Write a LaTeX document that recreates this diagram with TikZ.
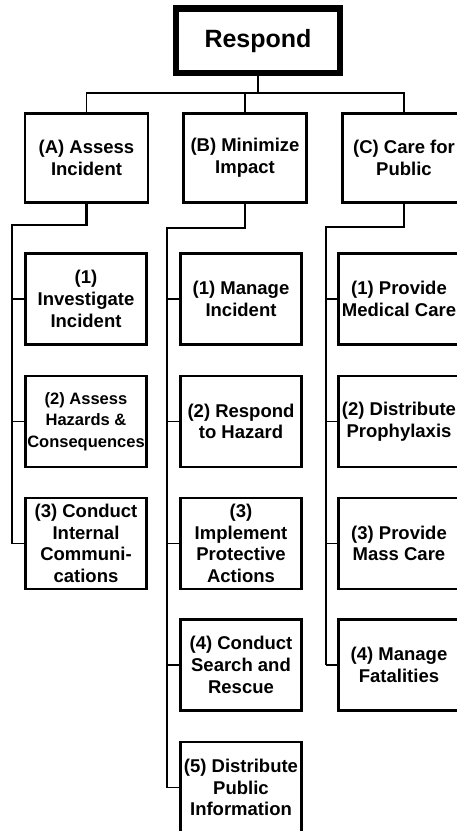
\documentclass[tikz,border=0pt]{standalone}
\usepackage{fontspec}
\setmainfont{Liberation Sans}
\tikzset{
  box/.style={draw, rectangle, line width=2.5pt, align=center, inner sep=0pt,
    minimum width=121pt, minimum height=91pt,
    font=\fontsize{18.5}{21.7}\selectfont\bfseries},
  link/.style={line width=1.8pt},
  spine/.style={line width=2.7pt},
  tick/.style={line width=1.5pt},
}
\begin{document}
\begin{tikzpicture}[x=1pt, y=-1pt]
\clip (0,0) rectangle (457,831);
\node[box, line width=6.5pt, minimum width=164pt, minimum height=64.5pt,
  font=\fontsize{25}{30}\selectfont\bfseries] (r) at (258,40.75) {Respond};
\node[box, minimum width=123pt, minimum height=89pt] (a) at (86.5,158) {(A) Assess\\Incident};
\node[box, minimum width=123pt, minimum height=89pt] (b) at (245,158) {(B) Minimize\\Impact};
\node[box, minimum width=123pt, minimum height=89pt] (c) at (404,158) {(C) Care for\\Public};
\node[box] (a1) at (86,299) {(1)\\Investigate\\Incident};
\node[box, font=\fontsize{16.5}{21.7}\selectfont\bfseries] (a2) at (86,421.5) {(2) Assess\\Hazards \&\\Consequences};
\node[box] (a3) at (86,543.5) {(3) Conduct\\Internal\\Communi-\\cations};
\node[box] (b1) at (241,299) {(1) Manage\\Incident};
\node[box] (b2) at (241,421.5) {(2) Respond\\to Hazard};
\node[box] (b3) at (241,543.5) {(3)\\Implement\\Protective\\Actions};
\node[box] (b4) at (241,665) {(4) Conduct\\Search and\\Rescue};
\node[box] (b5) at (241,787.5) {(5) Distribute\\Public\\Information};
\node[box] (c1) at (399,299) {(1) Provide\\Medical Care};
\node[box] (c2) at (399,421.5) {(2) Distribute\\Prophylaxis};
\node[box] (c3) at (399,543.5) {(3) Provide\\Mass Care};
\node[box] (c4) at (399,665) {(4) Manage\\Fatalities};
\coordinate (hub) at (258,93);
\coordinate (sa) at (12,225);
\coordinate (sb) at (167,228);
\coordinate (sc) at (326,227);
\draw[link] (r.south) -- (hub);
\draw[link] (a.north) |- (hub) -| (c.north);
\draw[link] (b.north) -- (b.north |- hub);
\draw[spine] (a.south) |- (sa) -- (sa |- a3.west);
\draw[spine] (b.south) |- (sb) -- (sb |- b5.west);
\draw[spine] (c.south) |- (sc) -- (sc |- c4.west);
\draw[tick] (sa |- a1.west) -- (a1.west);
\draw[tick] (sa |- a2.west) -- (a2.west);
\draw[tick] (sa |- a3.west) -- (a3.west);
\draw[tick] (sb |- b1.west) -- (b1.west);
\draw[tick] (sb |- b2.west) -- (b2.west);
\draw[tick] (sb |- b3.west) -- (b3.west);
\draw[tick] (sb |- b4.west) -- (b4.west);
\draw[tick] (sb |- b5.west) -- (b5.west);
\draw[tick] (sc |- c1.west) -- (c1.west);
\draw[tick] (sc |- c2.west) -- (c2.west);
\draw[tick] (sc |- c3.west) -- (c3.west);
\draw[tick] (sc |- c4.west) -- (c4.west);
\end{tikzpicture}
\end{document}
